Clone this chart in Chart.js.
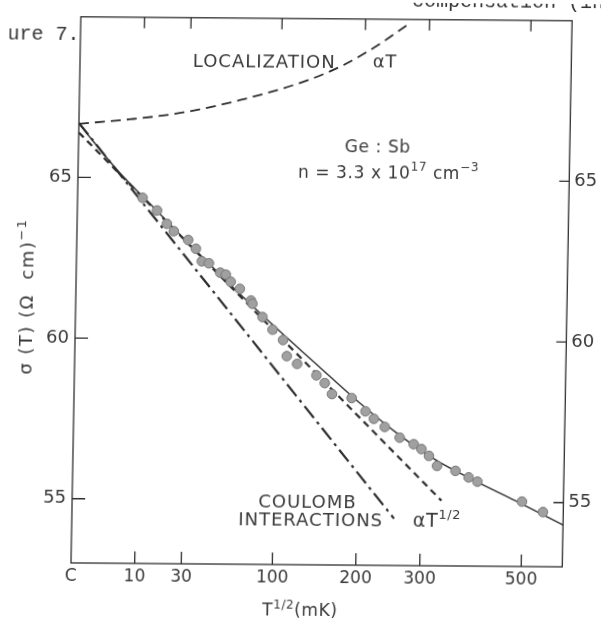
<!DOCTYPE html>
<html>
<head>
<meta charset="utf-8">
<script src="https://cdn.jsdelivr.net/npm/chart.js@4.4.1/dist/chart.umd.min.js"></script>
<style>
  html, body { margin: 0; padding: 0; background: #fff; }
  #wrap { position: relative; width: 601px; height: 621px; overflow: hidden; }
  /* the printed frame leans a little to the right */
  #sigma-chart { transform-origin: 71px 563px; transform: matrix(1, 0.008, -0.018, 1, 0, 0); }
</style>
</head>
<body>
<div id="wrap"><canvas id="sigma-chart" width="601" height="621"></canvas></div>
<script>
// Ge:Sb conductivity, x = T^1/2 (mK^1/2), y = sigma (ohm cm)^-1
const sqrtT = [3.23, 3.96, 4.46, 4.81, 5.53, 5.92, 6.23, 6.58, 7.15, 7.43, 7.68, 8.14, 8.70, 8.78, 9.29,
  9.80, 10.33, 10.53, 11.05, 12.02, 12.44, 12.81, 13.79, 14.49, 14.91, 15.46, 16.21, 16.91, 17.30, 17.68,
  18.09, 19.01, 19.67, 20.11, 22.34, 23.39];
const sigma = [64.38, 63.99, 63.58, 63.35, 63.08, 62.81, 62.42, 62.36, 62.07, 62.01, 61.79, 61.57, 61.21, 61.11, 60.70,
  60.31, 59.99, 59.49, 59.25, 58.90, 58.66, 58.32, 58.20, 57.79, 57.56, 57.31, 56.98, 56.78, 56.63, 56.42,
  56.11, 55.96, 55.76, 55.63, 55.02, 54.70];

// full fit through the data
const fitX = [0, 2, 4, 6, 8, 10, 12, 14, 16, 18, 20, 22, 24.4];
const fitY = [66.67, 65.2, 63.95, 62.7, 61.5, 60.35, 59.25, 58.15, 57.15, 56.3, 55.65, 55.05, 54.3];

// coulomb interaction term alone
const coulX = [0, 16.0];
const coulY = [66.7, 54.46];

// alpha T^1/2 line
const halfX = [0, 18.34];
const halfY = [66.4, 55.03];

// localization, alpha T
const locX = [0, 2.5, 5, 8, 11.4, 13.2, 14.8, 16.2];
const locY = [66.67, 66.82, 67.03, 67.45, 68.1, 68.6, 69.2, 69.82];

// axis ticks: x ticks sit at sqrt(T), labelled in T (mK)
const tickT = [0, 10, 30, 100, 200, 300, 500];
const xTickLabels = ['C', '10', '30', '100', '200', '300', '500'];
const yTicks = [55, 60, 65];

const INK = '#2e2e2e';
const TEXT = '#3a3a3a';
const FONT = '"DejaVu Sans", sans-serif';

const pts = (xs, ys) => xs.map((x, i) => ({ x: x, y: ys[i] }));

// draws a run of [text, size, rise] pieces starting at x, baseline y
function richText(ctx, parts, x, y, align) {
  let w = 0;
  parts.forEach(p => { ctx.font = p[1] + 'px ' + FONT; w += ctx.measureText(p[0]).width; });
  let cx = align === 'right' ? x - w : align === 'center' ? x - w / 2 : x;
  ctx.textAlign = 'left';
  ctx.textBaseline = 'alphabetic';
  parts.forEach(p => {
    ctx.font = p[1] + 'px ' + FONT;
    ctx.fillText(p[0], cx, y - p[2]);
    cx += ctx.measureText(p[0]).width;
  });
}

const frameAndText = {
  id: 'frameAndText',
  afterDraw(chart) {
    const { ctx, chartArea: a, scales: { x, y } } = chart;
    ctx.save();
    ctx.strokeStyle = INK;
    ctx.lineWidth = 1.3;
    ctx.strokeRect(a.left, a.top, a.right - a.left, a.bottom - a.top);

    // inward tick marks on all four sides
    ctx.beginPath();
    tickT.forEach(t => {
      if (t === 0) return;
      const px = x.getPixelForValue(Math.sqrt(t));
      ctx.moveTo(px, a.bottom); ctx.lineTo(px, a.bottom - 12);
      ctx.moveTo(px, a.top); ctx.lineTo(px, a.top + 11);
    });
    yTicks.forEach(v => {
      const py = y.getPixelForValue(v);
      ctx.moveTo(a.left, py); ctx.lineTo(a.left + 13, py);
      ctx.moveTo(a.right, py); ctx.lineTo(a.right - 10, py);
    });
    ctx.stroke();

    ctx.fillStyle = TEXT;
    const at = (vx, vy) => [x.getPixelForValue(vx), y.getPixelForValue(vy)];

    ctx.letterSpacing = '1px';
    let p = at(5.6, 68.46);
    richText(ctx, [['LOCALIZATION', 18, 0]], p[0], p[1], 'left');
    p = at(14.13, 54.78);
    richText(ctx, [['COULOMB', 18, 0]], p[0], p[1], 'right');
    p = at(15.46, 54.2);
    richText(ctx, [['INTERACTIONS', 18, 0]], p[0], p[1], 'right');
    ctx.letterSpacing = '0.6px';

    p = at(14.54, 68.5);
    richText(ctx, [['αT', 18, 0]], p[0], p[1], 'left');
    p = at(16.94, 54.2);
    richText(ctx, [['αT', 19, 0], ['1/2', 13, 8]], p[0], p[1], 'left');

    p = at(14.86, 65.85);
    richText(ctx, [['Ge : Sb', 17, 0]], p[0], p[1], 'center');
    p = at(10.92, 65.03);
    richText(ctx, [['n = 3.3 x 10', 17, 0], ['17', 12, 8], [' cm', 17, 0], ['−3', 12, 8]], p[0], p[1], 'left');

    // axis titles
    richText(ctx, [['T', 17, 0], ['1/2', 12, 7], ['(mK)', 17, 0]], 263, 614, 'left');
    ctx.save();
    ctx.translate(28, 297);
    ctx.rotate(-Math.PI / 2);
    ctx.letterSpacing = '1.5px';
    richText(ctx, [['σ (T) (Ω  cm)', 18, 0], ['−1', 13, 8]], 0, 0, 'center');
    ctx.restore();
    ctx.letterSpacing = '0px';

    // bits of the surrounding page text
    ctx.fillStyle = '#333';
    ctx.font = '20px "Liberation Mono", monospace';
    ctx.textAlign = 'left';
    ctx.fillText('ure 7.', -2, 40);
    ctx.fillText('compensation (in', 402, 4);
    ctx.restore();
  }
};

const ctx = document.getElementById('sigma-chart').getContext('2d');
const chart = new Chart(ctx, {
  type: 'scatter',
  data: {
    datasets: [
      {
        label: 'data',
        data: pts(sqrtT, sigma),
        pointRadius: 4.8,
        pointHoverRadius: 4.8,
        backgroundColor: '#a0a0a0',
        borderColor: '#767676',
        borderWidth: 1
      },
      {
        label: 'fit',
        data: pts(fitX, fitY),
        showLine: true,
        pointRadius: 0,
        borderColor: INK,
        borderWidth: 1.4,
        cubicInterpolationMode: 'monotone'
      },
      {
        label: 'coulomb',
        data: pts(coulX, coulY),
        showLine: true,
        pointRadius: 0,
        borderColor: INK,
        borderWidth: 2.2,
        borderDash: [15, 5, 3, 5]
      },
      {
        label: 'aT^1/2',
        data: pts(halfX, halfY),
        showLine: true,
        pointRadius: 0,
        borderColor: INK,
        borderWidth: 2.2,
        borderDash: [7, 5]
      },
      {
        label: 'localization',
        data: pts(locX, locY),
        showLine: true,
        pointRadius: 0,
        borderColor: INK,
        borderWidth: 1.8,
        borderDash: [10, 6],
        cubicInterpolationMode: 'monotone'
      }
    ]
  },
  options: {
    responsive: false,
    animation: false,
    events: [],
    layout: { padding: { top: 12, left: 0, right: 0, bottom: 0 } },
    plugins: { legend: { display: false }, tooltip: { enabled: false } },
    scales: {
      x: {
        type: 'linear',
        position: 'bottom',
        min: 0,
        max: 24.4,
        grid: { display: false, drawTicks: false },
        border: { display: false },
        afterBuildTicks: s => { s.ticks = tickT.map(t => ({ value: Math.sqrt(t) })); },
        afterFit: s => { s.height = 58; },
        ticks: {
          autoSkip: false,
          maxRotation: 0,
          padding: 3,
          color: TEXT,
          font: { family: FONT, size: 17 },
          callback: (v, i) => xTickLabels[i]
        }
      },
      y: {
        type: 'linear',
        position: 'left',
        min: 53,
        max: 70,
        grid: { display: false, drawTicks: false },
        border: { display: false },
        afterBuildTicks: s => { s.ticks = yTicks.map(v => ({ value: v })); },
        afterFit: s => { s.width = 71; },
        ticks: { padding: 6, color: TEXT, font: { family: FONT, size: 18 } }
      },
      yR: {
        type: 'linear',
        position: 'right',
        min: 53,
        max: 70,
        grid: { display: false, drawTicks: false },
        border: { display: false },
        afterBuildTicks: s => { s.ticks = yTicks.map(v => ({ value: v })); },
        afterFit: s => { s.width = 38.7; },
        ticks: { padding: 5, color: TEXT, font: { family: FONT, size: 18 } }
      }
    }
  },
  plugins: [frameAndText]
});
</script>
</body>
</html>
